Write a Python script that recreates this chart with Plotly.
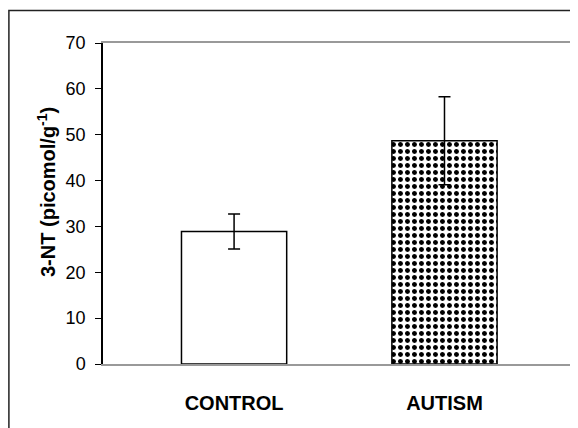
import plotly.graph_objects as go

categories = ["CONTROL", "AUTISM"]
values = [28.9, 48.7]
errors = [3.8, 9.6]
patterns = ["", "."]
y_ticks = [0, 10, 20, 30, 40, 50, 60, 70]
y_title = "3-NT (picomol/g<sup>-1</sup>)"

# the page body adds an 8px offset, so the figure is sized to fit the window
OFF = 8
W, H = 570, 420
L, R, T, B = 103 - OFF, 2, 43 - OFF, 64
pw, ph = W - L - R, H - T - B


def px_x(px):
    return (px - OFF - L) / pw


def px_y(py):
    return (H - B - (py - OFF)) / ph


fig = go.Figure()
fig.add_trace(go.Bar(
    x=categories,
    y=values,
    width=0.5,
    marker=dict(
        color="white",
        line=dict(color="black", width=1.5),
        pattern=dict(shape=patterns, fgcolor="black", bgcolor="white",
                     size=7, solidity=0.4, fillmode="replace"),
    ),
    error_y=dict(type="data", array=errors, visible=True,
                 color="black", thickness=1.5, width=6),
    showlegend=False,
))

fig.update_layout(
    width=W, height=H,
    margin=dict(l=L, r=R, t=T, b=B, pad=0),
    paper_bgcolor="white",
    plot_bgcolor="white",
    font=dict(family="Liberation Sans, Arial, sans-serif", color="black"),
    xaxis=dict(
        range=[-0.623, 1.625],
        showline=True, linecolor="#999999", linewidth=1.5, mirror=True,
        ticks="", showgrid=False, zeroline=False,
        tickfont=dict(size=20, family="Liberation Sans, Arial, sans-serif", weight="bold"),
        ticklabelstandoff=20,
        fixedrange=True,
    ),
    yaxis=dict(
        range=[0, 70],
        tickvals=y_ticks,
        showline=True, linecolor="black", linewidth=1.5,
        ticks="outside", ticklen=6, tickwidth=1, tickcolor="black",
        showgrid=False, zeroline=False,
        tickfont=dict(size=18),
        ticklabelstandoff=6,
        fixedrange=True,
    ),
    shapes=[
        dict(type="line", xref="paper", yref="paper", x0=1, x1=1, y0=0, y1=1,
             line=dict(color="#999999", width=1.5)),
        dict(type="rect", xref="paper", yref="paper",
             x0=px_x(8.9), x1=px_x(590), y0=px_y(440), y1=px_y(10.5),
             line=dict(color="#222222", width=1.5), fillcolor="rgba(0,0,0,0)"),
    ],
    annotations=[
        dict(text=y_title, xref="paper", yref="paper",
             x=px_x(46), y=px_y(192), textangle=-90, showarrow=False,
             xanchor="center", yanchor="middle",
             font=dict(size=20, weight="bold")),
    ],
)

fig.write_html("out.html")
